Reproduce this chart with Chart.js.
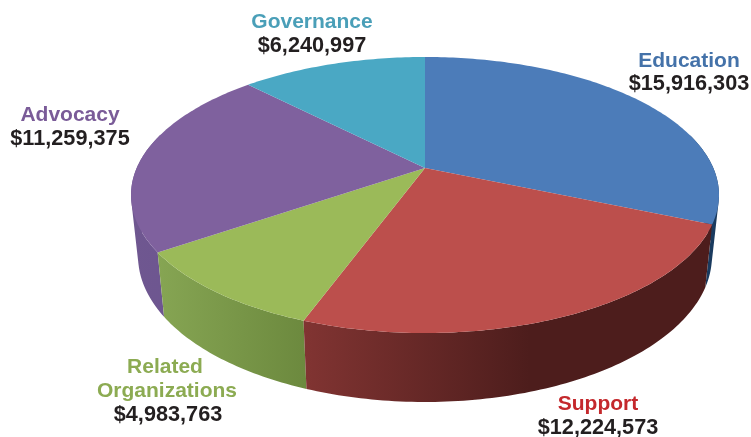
<!DOCTYPE html>
<html>
<head>
<meta charset="utf-8">
<style>
  html, body { margin: 0; padding: 0; background: #fff; }
  canvas { display: block; }
</style>
<script src="https://cdn.jsdelivr.net/npm/chart.js@4/dist/chart.umd.min.js"></script>
</head>
<body>
<canvas id="budget" width="751" height="437"></canvas>
<script>
const categories = ['Education', 'Support', 'Related Organizations', 'Advocacy', 'Governance'];
const amounts = [15916303, 12224573, 4983763, 11259375, 6240997];
const topColors = ['#4c7cb9', '#bc4f4c', '#9bba59', '#7f619e', '#4aa8c4'];
const labelColors = ['#4472a9', '#c4282c', '#8cab52', '#7a5b98', '#4a9fb8'];

// wall shading, [left colour, right colour]
const wallColors = [
  ['#1f4670', '#1a3a5e'],
  ['#813432', '#4d1d1c'],
  ['#86a553', '#6c893e'],
  ['#6f5790', '#6a5390'],
  ['#3a8299', '#3a8299']
];

// perspective of the tilted disc
const cx = 425, persp = -0.1957;
const rimX = 288.3, wallInset = 0.976;
function topPoint(a) {
  const u = Math.cos(a), v = Math.sin(a), s = 1 + persp * v;
  return [cx + rimX * u / s, (168 + 99.85 * v) / s];
}
function bottomPoint(a) {
  const u = Math.cos(a), v = Math.sin(a), s = 1 + persp * v;
  return [cx + rimX * wallInset * u / s, (227.7 + 95.6 * v) / s];
}
function arcAngles(start, end) {
  const steps = Math.max(4, Math.ceil((end - start) * 60)), out = [];
  for (let i = 0; i <= steps; i++) out.push(start + (end - start) * i / steps);
  return out;
}
function tracePoly(ctx, pts) {
  pts.forEach((p, i) => i ? ctx.lineTo(p[0], p[1]) : ctx.moveTo(p[0], p[1]));
  ctx.closePath();
}
function polyArea(pts) {
  let sum = 0;
  pts.forEach((p, i) => {
    const q = pts[(i + 1) % pts.length];
    sum += p[0] * q[1] - q[0] * p[1];
  });
  return sum;
}

class TiltedArc extends Chart.ArcElement {
  static id = 'tiltedArc';
  draw(ctx) {
    ctx.beginPath();
    tracePoly(ctx, [[cx, 168]].concat(arcAngles(this.startAngle, this.endAngle).map(topPoint)));
    ctx.fillStyle = this.options.backgroundColor;
    ctx.fill();
  }
}

class TiltedPie extends Chart.PieController {
  static id = 'tiltedPie';
  static defaults = { dataElementType: 'tiltedArc' };
}
Chart.register(TiltedArc, TiltedPie);

const wallPlugin = {
  id: 'walls',
  beforeDatasetsDraw(chart) {
    const ctx = chart.ctx;
    const arcs = chart.getDatasetMeta(0).data.map((el, i) => ({ el, i }));
    // back walls first so the front ones cover them
    arcs.sort((p, q) => Math.sin((p.el.startAngle + p.el.endAngle) / 2) - Math.sin((q.el.startAngle + q.el.endAngle) / 2));
    arcs.forEach(({ el, i }) => {
      const angles = arcAngles(el.startAngle, el.endAngle);
      const xs = angles.map(a => topPoint(a)[0]).concat(angles.map(a => bottomPoint(a)[0]));
      const x0 = Math.min(...xs);
      const x1 = i === 1 ? 530 : Math.max(...xs);
      const g = ctx.createLinearGradient(x0, 0, x1, 0);
      g.addColorStop(0, wallColors[i][0]);
      g.addColorStop(1, wallColors[i][1]);
      ctx.beginPath();
      // small quads in one path, all wound the same way so no seams show
      for (let k = 0; k < angles.length - 1; k++) {
        const a = angles[k], b = angles[k + 1];
        if (Math.sin(a) < -0.25 && Math.sin(b) < -0.25) continue; // hidden by the top
        const quad = [topPoint(a), topPoint(b), bottomPoint(b), bottomPoint(a)];
        if (polyArea(quad) < 0) quad.reverse();
        tracePoly(ctx, quad);
      }
      ctx.fillStyle = g;
      ctx.fill();
    });
  }
};

// text lines of each label: [text, centre x, baseline y]
const labelLines = [
  [['Education', 689, 67]],
  [['Support', 598, 410]],
  [['Related', 165, 373], ['Organizations', 167, 397]],
  [['Advocacy', 70, 121]],
  [['Governance', 312, 28]]
];
const amountSpots = [[689, 90], [598, 434], [168, 421], [70, 145], [312, 52]];

const labelPlugin = {
  id: 'sliceLabels',
  afterDatasetsDraw(chart) {
    const ctx = chart.ctx;
    ctx.save();
    ctx.textAlign = 'center';
    ctx.textBaseline = 'alphabetic';
    categories.forEach((name, i) => {
      ctx.font = 'bold 21px "Liberation Sans", Arial, sans-serif';
      ctx.fillStyle = labelColors[i];
      labelLines[i].forEach(l => ctx.fillText(l[0], l[1], l[2]));
      ctx.font = 'bold 21.7px "Liberation Sans", Arial, sans-serif';
      ctx.fillStyle = '#231f20';
      ctx.fillText('$' + amounts[i].toLocaleString('en-US'), amountSpots[i][0], amountSpots[i][1]);
    });
    ctx.restore();
  }
};

new Chart(document.getElementById('budget'), {
  type: 'tiltedPie',
  data: {
    labels: categories,
    datasets: [{ data: amounts, backgroundColor: topColors, borderWidth: 0 }]
  },
  options: {
    responsive: false,
    animation: false,
    plugins: { legend: { display: false }, tooltip: { enabled: false } }
  },
  plugins: [wallPlugin, labelPlugin]
});
</script>
</body>
</html>
